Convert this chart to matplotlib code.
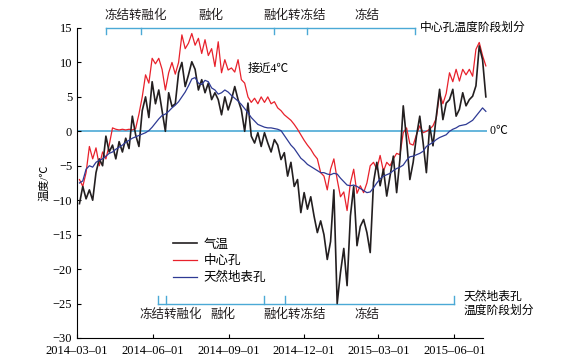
import numpy as np
import pandas as pd
import matplotlib
matplotlib.use("Agg")
import matplotlib.pyplot as plt
import matplotlib.dates as mdates

plt.rcParams['font.family'] = ['Liberation Serif', 'Noto Sans CJK SC']
plt.rcParams['axes.unicode_minus'] = True

# readings every 4 days starting 2014-03-04
start_date = "2014-03-04"
step_days = 4

air_temp = [-10.5, -8.0, -9.8, -8.5, -10.0, -6.0, -4.0, -5.0, -0.7, -3.0,
            -2.0, -4.0, -1.5, -3.0, -1.0, -2.5, 2.2, -0.5, -2.2, 3.0,
            5.0, 2.0, 7.2, 4.0, 6.0, 3.0, 0.0, 5.6, 3.6, 4.0,
            8.5, 10.0, 6.5, 8.2, 10.1, 9.0, 6.0, 7.5, 5.6, 7.0,
            4.6, 5.6, 4.6, 2.4, 5.0, 3.1, 4.6, 6.5, 4.6, 3.1,
            0.0, 4.1, -0.7, -1.7, -0.2, -2.2, -0.2, -1.7, -3.0, -1.2,
            -2.0, -4.1, -3.1, -6.5, -4.5, -8.0, -7.0, -11.8, -8.9, -11.3,
            -9.5, -12.3, -14.7, -13.0, -15.0, -18.6, -16.0, -8.5, -25.0, -20.5,
            -17.0, -22.4, -12.3, -8.0, -16.6, -13.8, -12.8, -14.7, -17.6, -7.4,
            -4.5, -7.9, -5.5, -9.4, -6.5, -3.6, -8.9, -4.0, 3.7, -1.2,
            -7.0, -4.5, -0.7, 2.2, -1.6, -6.0, 0.8, -2.1, 2.2, 6.1,
            1.7, 4.1, 4.6, 6.1, 2.2, 3.2, 5.6, 3.7, 4.6, 5.1,
            6.6, 12.4, 10.4, 5.0]

center_hole = [-7.0, -8.0, -6.0, -2.2, -4.0, -2.4, -5.0, -3.0, -4.0, -2.0,
               0.5, 0.3, 0.2, 0.3, 0.2, 0.3, 0.2, 0.4, 2.5, 5.0,
               8.2, 7.0, 10.6, 9.8, 10.6, 9.0, 6.0, 8.5, 10.0, 8.3,
               10.0, 14.0, 12.0, 12.8, 14.2, 12.5, 13.5, 11.3, 13.3, 11.0,
               12.0, 9.4, 13.0, 8.5, 10.4, 8.9, 9.2, 8.6, 10.4, 7.5,
               7.0, 5.0, 4.2, 4.8, 4.0, 5.0, 4.2, 5.0, 4.0, 4.3,
               3.4, 3.0, 2.4, 2.0, 1.6, 1.0, 0.3, -0.5, -1.3, -2.0,
               -2.6, -3.4, -4.0, -6.0, -6.5, -8.5, -5.5, -4.0, -7.0, -9.5,
               -8.8, -11.5, -7.5, -5.5, -9.0, -7.9, -8.9, -7.5, -5.0, -4.5,
               -5.5, -3.5, -5.8, -4.5, -5.0, -4.0, -3.2, -3.4, -0.2, 0.5,
               -1.8, -2.0, -0.5, 0.8, -0.2, 0.0, 0.3, 0.8, 1.9, 5.5,
               4.0, 5.5, 8.5, 7.2, 9.0, 7.3, 9.0, 8.2, 9.0, 8.0,
               11.9, 12.9, 11.0, 9.5]

surface_hole = [-7.5, -7.2, -5.5, -5.0, -5.2, -4.5, -4.2, -4.0, -3.6, -3.2,
                -3.0, -2.6, -2.3, -2.0, -1.6, -1.3, -1.0, -0.8, -0.6, -0.4,
                -0.2, 0.1, 0.6, 1.2, 1.8, 2.3, 2.5, 2.9, 3.4, 3.8,
                4.3, 5.0, 5.7, 6.6, 7.6, 7.8, 7.0, 6.8, 7.4, 7.2,
                6.3, 6.0, 5.4, 5.6, 6.0, 5.7, 5.2, 4.8, 4.4, 3.9,
                3.3, 2.7, 2.0, 1.5, 1.0, 0.8, 0.6, 0.5, 0.5, 0.4,
                0.3, 0.1, -0.6, -1.3, -2.0, -2.5, -3.2, -3.9, -4.3, -4.8,
                -5.1, -5.4, -5.7, -6.0, -6.0, -6.2, -6.3, -6.1, -6.2, -6.8,
                -7.3, -7.8, -7.9, -7.8, -8.0, -8.3, -8.6, -8.9, -8.8, -8.2,
                -7.5, -6.9, -6.5, -6.3, -6.1, -5.7, -5.4, -5.2, -4.9, -4.2,
                -3.7, -3.6, -3.4, -3.2, -2.9, -2.2, -1.9, -1.6, -1.2, -0.9,
                -0.7, -0.5, 0.0, 0.3, 0.5, 0.8, 0.9, 1.0, 1.3, 1.6,
                2.2, 2.8, 3.4, 2.9]

series_names = ["气温", "中心孔", "天然地表孔"]

# stage divisions (boundary dates and label positions)
center_bounds = ["2014-04-05", "2014-05-17", "2014-10-25", "2014-12-05", "2015-04-14"]
center_labels = ["冻结转融化", "融化", "融化转冻结", "冻结"]
center_label_dates = ["2014-05-11", "2014-08-10", "2014-11-19", "2015-02-15"]
surface_bounds = ["2014-06-07", "2014-06-17", "2014-10-13", "2014-11-08", "2015-06-01"]
surface_labels = ["冻结转融化", "融化", "融化转冻结", "冻结"]
surface_label_dates = ["2014-06-22", "2014-08-25", "2014-11-20", "2015-02-15"]

dates = pd.date_range(start_date, periods=len(air_temp), freq=f"{step_days}D")
d = lambda s: mdates.date2num(pd.Timestamp(s))

fig = plt.figure(figsize=(5.78, 3.63), dpi=100)
ax = fig.add_axes([0.1332, 0.0689, 0.7088, 0.854])

cyan = "#4ba9d6"
ax.axhline(0, color=cyan, lw=1.2, zorder=1)
ax.plot(dates, air_temp, color="#231f20", lw=1.2, label=series_names[0], zorder=3)
ax.plot(dates, center_hole, color="#e8212b", lw=0.9, label=series_names[1], zorder=2)
ax.plot(dates, surface_hole, color="#2e3a94", lw=0.9, label=series_names[2], zorder=4)

ax.set_xlim(d("2014-03-01"), d("2015-07-10"))
ax.set_ylim(-30, 15)
ax.set_yticks(range(-30, 16, 5))
xt = ["2014-03-01", "2014-06-01", "2014-09-01", "2014-12-01", "2015-03-01", "2015-06-01"]
ax.set_xticks([d(s) for s in xt])
ax.set_xticklabels([s.replace("-", "–") for s in xt])
ax.tick_params(direction="in", length=3, labelsize=9, width=0.8)
ax.tick_params(axis="x", pad=5)
for s in ["top", "right"]:
    ax.spines[s].set_visible(False)
ax.spines["bottom"].set_bounds(d("2014-03-01"), d("2015-07-05"))
ax.spines["left"].set_linewidth(0.8)
ax.spines["bottom"].set_linewidth(0.8)
ax.set_ylabel("温度/℃", fontsize=8, labelpad=2)

# center hole stage bracket
cb = [d(s) for s in center_bounds]
ax.plot([cb[0], cb[-1]], [15, 15], color=cyan, lw=1.0, clip_on=False)
for b in cb:
    ax.plot([b, b], [15, 14.1], color=cyan, lw=1.0, clip_on=False)
for lab, ld in zip(center_labels, center_label_dates):
    ax.text(d(ld), 16.7, lab, ha="center", va="center", fontsize=9, color="#231f20")
ax.text(d("2015-04-20"), 15, "中心孔温度阶段划分", ha="left", va="center", fontsize=8.5)

# natural surface hole stage bracket
sb = [d(s) for s in surface_bounds]
ax.plot([sb[0], sb[-1]], [-25, -25], color=cyan, lw=1.0, clip_on=False)
for b in sb:
    ax.plot([b, b], [-25, -23.9], color=cyan, lw=1.0, clip_on=False)
for lab, ld in zip(surface_labels, surface_label_dates):
    ax.text(d(ld), -26.6, lab, ha="center", va="center", fontsize=9, color="#231f20")
ax.text(d("2015-06-12"), -25, "天然地表孔\n温度阶段划分", ha="left", va="center",
        fontsize=8.5, linespacing=1.3)

ax.text(d("2014-09-24"), 9.1, "接近4℃", ha="left", va="center", fontsize=8.5)
ax.text(d("2015-07-10"), 0, " 0℃", ha="left", va="center", fontsize=8.5)

ax.legend(loc="upper left", bbox_to_anchor=(0.22, 0.34), frameon=False, fontsize=9,
          handlelength=1.9, handletextpad=0.5, labelspacing=0.35, borderpad=0)

fig.savefig("out.png", dpi=100)
